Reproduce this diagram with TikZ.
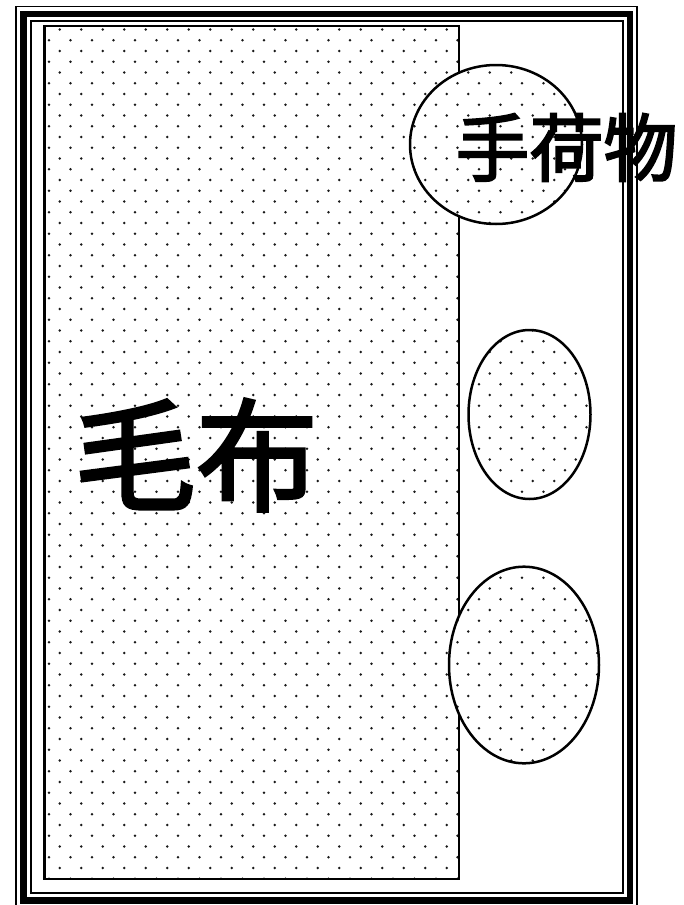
\documentclass[tikz,border=0pt]{standalone}
\usepackage{fontspec}
\newfontfamily\jpfont{Noto Sans CJK JP}[FakeBold=2.5]
% staggered dot lattice: rows #1..#2, columns #3..#4
\newcommand{\dotfield}[4]{%
	\foreach \r in {#1,...,#2}{
		\pgfmathsetmacro{\dy}{8+10.75*\r}
		\pgfmathsetmacro{\dx}{16.7+10.75*mod(\r,2)}
		\foreach \i in {#3,...,#4}{
			\fill [dotcol] (\dx+21.5*\i,\dy) circle (1.4);
		}
	}
}
\begin{document}
\begin{tikzpicture}[x=1pt, y=-1pt,
	dotcol/.style={black!90},
	outline/.style={line width=2.5pt},
	label/.style={inner sep=0pt, font=\jpfont}]
	\useasboundingbox (0,0) rectangle (683,905);
	% blanket
	\coordinate (B1) at (44.5,26);
	\coordinate (B2) at (459,879);
	\begin{scope}
		\clip (B1) rectangle (B2);
		\dotfield{1}{82}{0}{21}
	\end{scope}
	\draw [outline] (B1) rectangle (B2);
	% frame
	\draw [line width=1.2pt] (16,6.5) rectangle (637,908);
	\draw [line width=6.5pt] (23.5,14) rectangle (630,900.5);
	\draw [line width=2pt] (30.5,21) rectangle (623,892.5);
	% luggage
	\coordinate (E1) at (496,144.5);
	\coordinate (E2) at (529.5,414.5);
	\coordinate (E3) at (524,665);
	\fill [white] (E1) ellipse [x radius=86, y radius=79.5];
	\begin{scope}
		\clip (E1) ellipse [x radius=86, y radius=79.5];
		\dotfield{4}{21}{17}{27}
	\end{scope}
	\draw [outline] (E1) ellipse [x radius=86, y radius=79.5];
	\fill [white] (E2) ellipse [x radius=61, y radius=84.5];
	\begin{scope}
		\clip (E2) ellipse [x radius=61, y radius=84.5];
		\dotfield{29}{47}{20}{27}
	\end{scope}
	\draw [outline] (E2) ellipse [x radius=61, y radius=84.5];
	\fill [white] (E3) ellipse [x radius=75, y radius=98.3];
	\begin{scope}
		\clip (E3) ellipse [x radius=75, y radius=98.3];
		\dotfield{50}{72}{19}{28}
	\end{scope}
	\draw [outline] (E3) ellipse [x radius=75, y radius=98.3];
	% texts
	\node [label, font=\jpfont\fontsize{74}{74}\selectfont] (luggage) at (566.5,147.5) {手荷物};
	\node [label, font=\jpfont\fontsize{122}{122}\selectfont] (blanket) at (196,455) {毛布};
\end{tikzpicture}
\end{document}
